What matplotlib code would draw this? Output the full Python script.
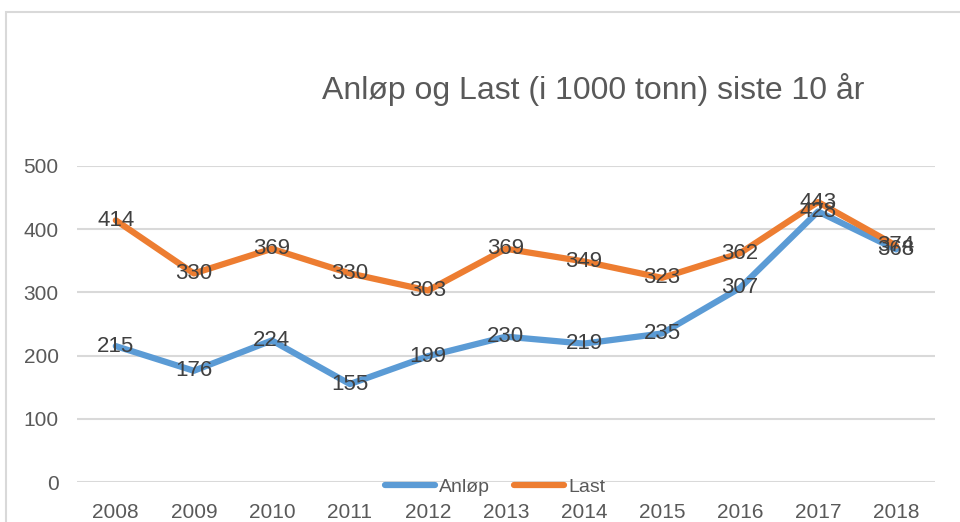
import matplotlib.pyplot as plt
from matplotlib.patches import Rectangle

years = ['2008', '2009', '2010', '2011', '2012', '2013', '2014', '2015', '2016', '2017', '2018']
anlop = [215, 176, 224, 155, 199, 230, 219, 235, 307, 428, 368]
last = [414, 330, 369, 330, 303, 369, 349, 323, 362, 443, 374]

plt.rcParams['font.family'] = ['Liberation Sans', 'DejaVu Sans']

fig = plt.figure(figsize=(9.6, 5.22), dpi=100)
ax = fig.add_axes([0.080, 0.0766, 0.894, 0.6054])

# chart frame (cropped at right/bottom)
fig.patches.append(Rectangle((6 / 960, -0.1), 2.0, 1 - 12 / 522 + 0.1,
                             transform=fig.transFigure, fill=False,
                             edgecolor='#D9D9D9', linewidth=1.5))

x = list(range(len(years)))
ax.plot(x, anlop, color='#5B9BD5', linewidth=4.5, label='Anløp', solid_capstyle='round')
ax.plot(x, last, color='#ED7D31', linewidth=4.5, label='Last', solid_capstyle='round')

for i in x:
    ax.text(i, anlop[i], str(anlop[i]), ha='center', va='center', fontsize=16, color='#404040')
    ax.text(i, last[i], str(last[i]), ha='center', va='center', fontsize=16, color='#404040')

ax.set_xlim(-0.5, 10.5)
ax.set_ylim(0, 500)
ax.set_yticks([0, 100, 200, 300, 400, 500])
ax.set_xticks(x)
ax.set_xticklabels(years)
ax.grid(axis='y', color='#D9D9D9', linewidth=1.5)
ax.set_axisbelow(True)
for s in ax.spines.values():
    s.set_visible(False)
ax.tick_params(axis='both', length=0, labelsize=15, labelcolor='#595959')
ax.tick_params(axis='x', pad=15)
ax.tick_params(axis='y', pad=13)

fig.text(593 / 960, 1 - 90 / 522, 'Anløp og Last (i 1000 tonn) siste 10 år',
         ha='center', va='center', fontsize=23, color='#595959')

fig.legend(loc='center', bbox_to_anchor=(495 / 960, 1 - 487 / 522), ncol=2,
           frameon=False, fontsize=14, handlelength=2.6, handletextpad=0.2,
           columnspacing=1.2, labelcolor='#595959')

fig.savefig('out.png', dpi=100)
